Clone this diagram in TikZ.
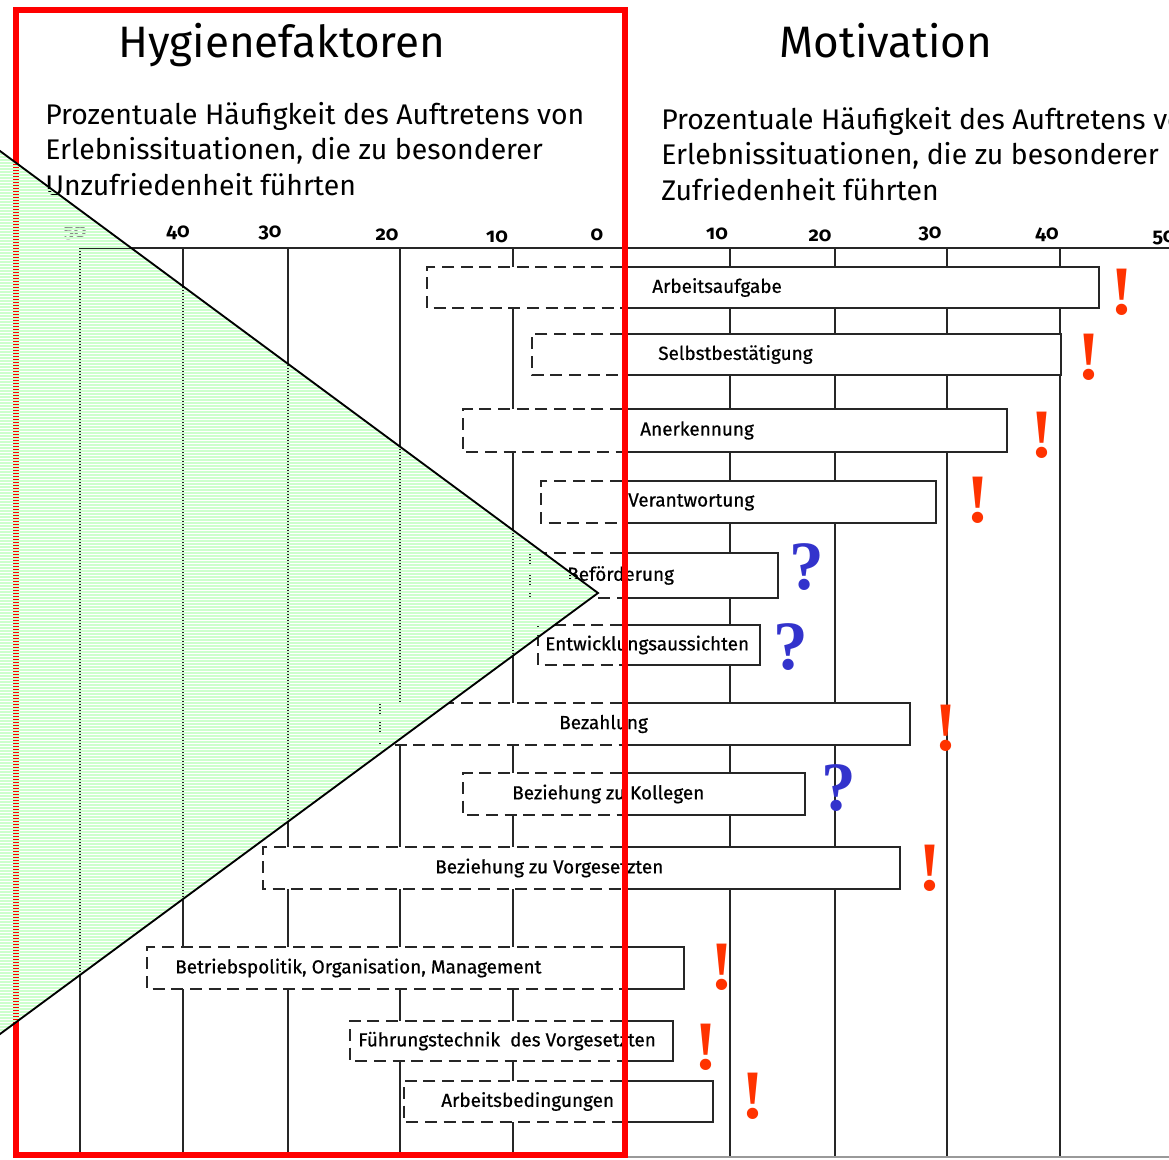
\documentclass[tikz,border=0pt]{standalone}
\usepackage{fontspec}
\setmainfont{Fira Sans}
\newfontfamily\markfont{Liberation Serif}
\newfontfamily\lblfont[FakeBold=0.6]{Fira Sans}
\usetikzlibrary{calc}
\definecolor{framered}{RGB}{255,0,0}
\definecolor{exclred}{RGB}{255,51,0}
\definecolor{quesblue}{RGB}{51,51,204}
\definecolor{trigreen}{RGB}{204,255,204}
\begin{document}
\begin{tikzpicture}[x=0.75pt,y=-0.75pt,
  gridline/.style={line width=1.6pt, black!85},
  barsolid/.style={line width=1.9pt, black!85},
  bardash/.style={line width=1.9pt, black!85, dash pattern=on 9pt off 5pt},
  lbl/.style={anchor=west, inner sep=0pt, font=\lblfont\fontsize{14.2}{16}\selectfont},
  axnum/.style={inner sep=0pt, font=\bfseries\addfontfeatures{Numbers=OldStyle}\fontsize{15}{16}\selectfont},
  titletext/.style={anchor=base west, inner sep=0pt, font=\fontsize{33}{36}\selectfont},
  subtext/.style={anchor=base west, inner sep=0pt, font=\fontsize{21.3}{24}\selectfont},
  exclmark/.style={inner sep=0pt, text=exclred, font=\markfont\bfseries\fontsize{52}{52}\selectfont},
  quesmark/.style={inner sep=0pt, text=quesblue, font=\markfont\bfseries\fontsize{52}{52}\selectfont}]
\useasboundingbox (0,0) rectangle (1169,1159);
\clip (0,0) rectangle (1169,1159);
\fill[white] (0,0) rectangle (1169,1159);

% titles
\node[titletext] (t1) at (118,58) {Hygienefaktoren};
\node[titletext] (t2) at (779,58) {Motivation};
\node[subtext] (s1a) at (45,125) {Prozentuale Häufigkeit des Auftretens von};
\node[subtext] (s1b) at (45,160) {Erlebnissituationen, die zu besonderer};
\node[subtext] (s1c) at (45,195) {Unzufriedenheit führten};
\node[subtext] (s2a) at (661,130) {Prozentuale Häufigkeit des Auftretens von};
\node[subtext] (s2b) at (661,165) {Erlebnissituationen, die zu besonderer};
\node[subtext] (s2c) at (661,200) {Zufriedenheit führten};

% axis numbers
\node[axnum, text=black!45] (n50l) at (75,233) {50};
\node[axnum] (n40l) at (178,233) {40};
\node[axnum] (n30l) at (270,233) {30};
\node[axnum] (n20l) at (387,235) {20};
\node[axnum] (n10l) at (497,237) {10};
\node[axnum] (n0) at (597,235) {0};
\node[axnum] (n10r) at (717,234) {10};
\node[axnum] (n20r) at (820,236) {20};
\node[axnum] (n30r) at (930,234) {30};
\node[axnum] (n40r) at (1047,235) {40};
\node[axnum] (n50r) at (1164,238) {50};

% axis and grid
\draw[gridline] (80,248) -- (1169,248);
\foreach \gx in {80,183,288,400,513,730,835,947,1060}
  \draw[gridline] (\gx,248) -- (\gx,1157);
\draw[line width=1.8pt, black!40] (622,1157) -- (1169,1157);

% bars
\foreach \t/\b/\l/\r/\lx/\nm/\txt in {
  267/308/427/1099/652/a/Arbeitsaufgabe,
  334/375/532/1061/658/b/Selbstbestätigung,
  409/452/463/1007/640/c/Anerkennung,
  481/523/541/936/628/d/Verantwortung,
  553/598/530/778/567/e/Beförderung,
  625/665/538/760/545/f/Entwicklungsaussichten,
  703/745/380/910/559/g/Bezahlung,
  773/815/463/805/512/h/Beziehung zu Kollegen,
  847/889/263/900/435/i/Beziehung zu Vorgesetzten,
  947/989/147/684/175/j/{Betriebspolitik, Organisation, Management},
  1021/1061/350/673/358/k/Führungstechnik\ \ des Vorgesetzten,
  1081/1122/404/713/441/l/Arbeitsbedingungen}
{
  \fill[white] (\l,\t) rectangle (\r,\b);
  \draw[bardash] (622,\t) -- (\l,\t) -- (\l,\b) -- (622,\b);
  \draw[barsolid] (622,\t) -- (\r,\t) -- (\r,\b) -- (622,\b);
  \node[lbl] (bar\nm) at (\lx,{(\t+\b)/2}) {\txt};
}

% marks
\node[exclmark] (m1) at (1122,292) {!};
\node[exclmark] (m2) at (1089,357) {!};
\node[exclmark] (m3) at (1042,435) {!};
\node[exclmark] (m4) at (978,500) {!};
\node[quesmark] (m5) at (807,567) {?};
\node[quesmark] (m6) at (791,647) {?};
\node[exclmark] (m7) at (946,728) {!};
\node[quesmark] (m8) at (839,788) {?};
\node[exclmark] (m9) at (930,868) {!};
\node[exclmark] (m10) at (722,967) {!};
\node[exclmark] (m11) at (706,1047) {!};
\node[exclmark] (m12) at (753,1096) {!};

% red frame
\draw[framered, line width=4.6pt] (16,10) rectangle (625,1155);

% green striped triangle
\begin{scope}
  \clip (0,151) -- (598,593) -- (0,1034) -- cycle;
  \foreach \yy in {151,154,...,1036}
    \draw[trigreen, line width=1.55pt] (0,\yy) -- (600,\yy);
\end{scope}
\draw[line width=1.4pt, line join=miter] (-10,143.6) -- (598,593) -- (-10,1041.4);
\end{tikzpicture}
\end{document}
